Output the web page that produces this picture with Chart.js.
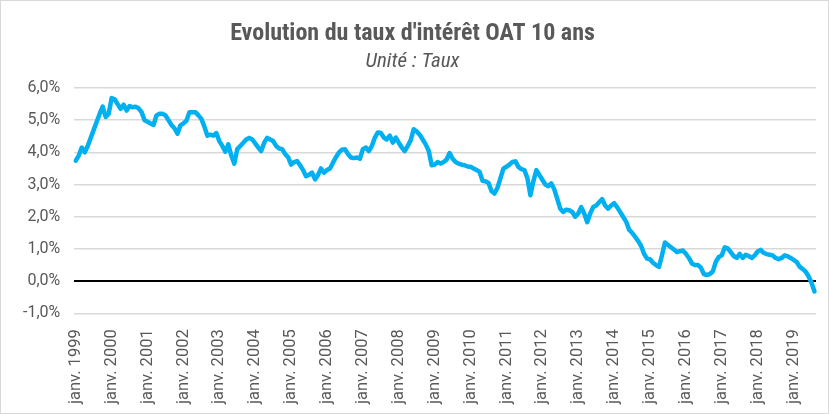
<!DOCTYPE html>
<html lang="fr">
<head>
<meta charset="utf-8">
<title>Evolution du taux d'intérêt OAT 10 ans</title>
<script src="https://cdn.jsdelivr.net/npm/chart.js@4/dist/chart.umd.min.js"></script>
<style>
  html, body { margin: 0; padding: 0; background: #fff; }
  .chart-container {
    width: 829px;
    height: 414px;
    box-sizing: border-box;
    border: 1px solid #d9d9d9;
    position: relative;
  }
</style>
</head>
<body>
<div class="chart-container">
  <canvas id="oat-chart"></canvas>
</div>
<script>
// Data (monthly average, %), Jan 1999 -> Aug 2019
const taux1999_2003 = [
  3.74, 3.9, 4.15, 4.0, 4.2, 4.45, 4.7, 4.95, 5.2, 5.42, 5.1, 5.2,
  5.69, 5.65, 5.5, 5.35, 5.48, 5.3, 5.44, 5.4, 5.42, 5.37, 5.25, 5.0,
  4.95, 4.9, 4.85, 5.15, 5.2, 5.2, 5.15, 5.0, 4.85, 4.75, 4.58, 4.84,
  4.9, 4.98, 5.25, 5.25, 5.25, 5.15, 5.04, 4.8, 4.52, 4.55, 4.52, 4.6,
  4.35, 4.2, 4.02, 4.25, 3.9, 3.65, 4.1, 4.2, 4.3, 4.4, 4.45, 4.4
];
const taux2004_2008 = [
  4.28, 4.15, 4.04, 4.3, 4.45, 4.4, 4.35, 4.2, 4.12, 4.1, 3.95, 3.85,
  3.62, 3.7, 3.73, 3.6, 3.45, 3.26, 3.3, 3.37, 3.16, 3.3, 3.5, 3.37,
  3.45, 3.5, 3.68, 3.85, 4.0, 4.08, 4.1, 3.95, 3.84, 3.82, 3.84, 3.8,
  4.1, 4.15, 4.04, 4.2, 4.46, 4.62, 4.6, 4.46, 4.4, 4.52, 4.3, 4.46,
  4.3, 4.15, 4.04, 4.2, 4.38, 4.72, 4.65, 4.55, 4.4, 4.25, 4.05, 3.6
];
const taux2009_2013 = [
  3.62, 3.7, 3.65, 3.7, 3.78, 3.98, 3.8, 3.7, 3.65, 3.62, 3.6, 3.56,
  3.55, 3.5, 3.45, 3.4, 3.12, 3.1, 3.05, 2.8, 2.72, 2.9, 3.2, 3.5,
  3.55, 3.62, 3.7, 3.72, 3.55, 3.48, 3.45, 3.2, 2.67, 3.1, 3.45, 3.3,
  3.15, 3.0, 2.95, 3.04, 2.85, 2.55, 2.25, 2.15, 2.22, 2.2, 2.15, 2.0,
  2.1, 2.3, 2.1, 1.83, 2.1, 2.3, 2.35, 2.45, 2.55, 2.35, 2.25, 2.35
];
const taux2014_2019 = [
  2.42, 2.3, 2.15, 2.0, 1.85, 1.6, 1.5, 1.38, 1.25, 1.1, 0.85, 0.7,
  0.68, 0.57, 0.5, 0.44, 0.8, 1.2, 1.12, 1.05, 0.98, 0.9, 0.93, 0.95,
  0.85, 0.72, 0.55, 0.5, 0.5, 0.42, 0.22, 0.19, 0.22, 0.3, 0.6, 0.75,
  0.8, 1.05, 1.02, 0.9, 0.78, 0.72, 0.85, 0.72, 0.82, 0.78, 0.72, 0.8,
  0.92, 0.97, 0.88, 0.84, 0.82, 0.8, 0.72, 0.68, 0.72, 0.8, 0.77, 0.72,
  0.66, 0.6, 0.45, 0.38, 0.3, 0.15, -0.05, -0.32
];

const moisCourts = ["janv.", "févr.", "mars", "avr.", "mai", "juin",
  "juil.", "août", "sept.", "oct.", "nov.", "déc."];
const anneeDebut = 1999;

const yTicks = [-1, 0, 1, 2, 3, 4, 5, 6];

const titre = "Evolution du taux d'intérêt OAT 10 ans";
const sousTitre = "Unité : Taux";

const couleurLigne = "#00b0f0";
const couleurTexte = "#595959";
const couleurGrille = "#d9d9d9";

// Build series and labels
const taux = [].concat(taux1999_2003, taux2004_2008, taux2009_2013, taux2014_2019);
const labels = taux.map((v, i) => {
  const annee = anneeDebut + Math.floor(i / 12);
  return moisCourts[i % 12] + " " + annee;
});

function formatPct(v) {
  return v.toFixed(1).replace(".", ",") + "%";
}

const condensed = "'Roboto Condensed', 'Liberation Sans Narrow', 'DejaVu Sans Condensed', sans-serif";

const ctx = document.getElementById("oat-chart").getContext("2d");
const chart = new Chart(ctx, {
  type: "line",
  data: {
    labels: labels,
    datasets: [
      {
        label: "OAT 10 ans",
        data: taux,
        borderColor: couleurLigne,
        backgroundColor: couleurLigne,
        borderWidth: 4.5,
        pointRadius: 0,
        tension: 0,
        borderJoinStyle: "round",
        borderCapStyle: "round",
      },
    ],
  },
  options: {
    responsive: true,
    maintainAspectRatio: false,
    animation: false,
    layout: {
      padding: { left: 8, right: 12, top: 0, bottom: 1 },
    },
    plugins: {
      legend: { display: false },
      tooltip: { enabled: false },
      title: {
        display: true,
        text: titre,
        color: couleurTexte,
        font: { family: condensed, size: 24, weight: "bold" },
        padding: { top: 19, bottom: 0 },
      },
      subtitle: {
        display: true,
        text: sousTitre,
        color: couleurTexte,
        font: { family: condensed, size: 21, style: "italic" },
        padding: { top: 0, bottom: 14 },
      },
    },
    scales: {
      x: {
        type: "category",
        offset: true,
        grid: { display: false },
        border: { display: false },
        ticks: {
          autoSkip: false,
          maxRotation: 90,
          minRotation: 90,
          padding: 8,
          color: couleurTexte,
          font: { family: "Roboto, sans-serif", size: 16.5 },
          callback: function (value, index) {
            return index % 12 === 0 ? this.getLabelForValue(value) : null;
          },
        },
      },
      y: {
        min: -1,
        max: 6,
        afterBuildTicks: (axis) => {
          axis.ticks = yTicks.map((v) => ({ value: v }));
        },
        border: { display: false },
        grid: {
          color: (c) => (c.tick && c.tick.value === 0 ? "#000000" : couleurGrille),
          lineWidth: (c) => (c.tick && c.tick.value === 0 ? 2 : 1.5),
          drawTicks: false,
        },
        ticks: {
          padding: 14,
          color: couleurTexte,
          font: { family: "Roboto, sans-serif", size: 16 },
          callback: (v) => formatPct(v),
        },
      },
    },
  },
});
</script>
</body>
</html>
